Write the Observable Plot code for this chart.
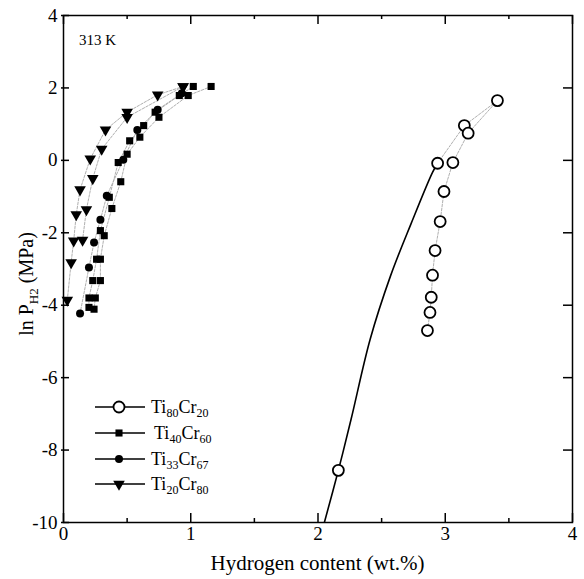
<!DOCTYPE html>
<html><head><meta charset="utf-8">
<script src="https://cdn.jsdelivr.net/npm/d3@7"></script>
<script src="https://cdn.jsdelivr.net/npm/@observablehq/plot@0.6"></script>
<style>
body{margin:0;background:#fff;}
svg{display:block;}
</style>
</head><body><div id="chart"></div>
<script>
// ---- axis ticks ----
const xTicksMajor = [0, 1, 2, 3, 4];
const xTicksMinor = [0.5, 1.5, 2.5, 3.5];
const yTicksMajor = [-10, -8, -6, -4, -2, 0, 2, 4];
const yTicksInner = [-8, -6, -4, -2, 0, 2];

// ---- series names ----
const seriesNames = ["Ti80Cr20", "Ti40Cr60", "Ti33Cr67", "Ti20Cr80"];

// ---- Ti80Cr20 (open circles) ----
const ti80cr20AbsCurve = [[2.05,-10.0],[2.16,-8.56],[2.26,-7.15],[2.41,-4.94],[2.57,-3.19],[2.73,-1.76],[2.90,-0.33],[2.94,-0.08]];
const ti80cr20AbsUpper = [[2.94,-0.08],[3.15,0.96],[3.41,1.65]];
const ti80cr20Des = [[3.41,1.65],[3.18,0.75],[3.06,-0.06],[2.99,-0.86],[2.96,-1.69],[2.92,-2.49],[2.90,-3.17],[2.89,-3.78],[2.88,-4.20],[2.86,-4.70]];
const ti80cr20Points = [[2.16,-8.56],[2.94,-0.08],[3.15,0.96],[3.41,1.65],[3.18,0.75],[3.06,-0.06],[2.99,-0.86],[2.96,-1.69],[2.92,-2.49],[2.90,-3.17],[2.89,-3.78],[2.88,-4.20],[2.86,-4.70]];

// ---- Ti40Cr60 (filled squares) ----
const ti40cr60Abs = [[0.20,-4.06],[0.20,-3.80],[0.23,-3.32],[0.26,-2.73],[0.29,-1.94],[0.36,-1.02],[0.43,-0.06],[0.52,0.54],[0.63,0.96],[0.72,1.33],[0.91,1.79],[1.02,2.04]];
const ti40cr60Des = [[1.16,2.04],[0.98,1.79],[0.75,1.19],[0.60,0.64],[0.50,0.17],[0.45,-0.59],[0.38,-1.33],[0.32,-2.08],[0.29,-2.73],[0.29,-3.32],[0.25,-3.80],[0.24,-4.11]];

// ---- Ti33Cr67 (filled circles) ----
const ti33cr67Abs = [[0.13,-4.23],[0.20,-2.96],[0.24,-2.27],[0.29,-1.64],[0.34,-0.98],[0.47,0.02],[0.58,0.84],[0.74,1.40],[0.93,1.85]];

// ---- Ti20Cr80 (filled down-triangles) ----
const ti20cr80Abs = [[0.03,-3.86],[0.06,-2.82],[0.08,-2.22],[0.10,-1.50],[0.13,-0.81],[0.21,0.04],[0.33,0.84],[0.50,1.33],[0.74,1.81],[0.94,2.04]];
const ti20cr80Des = [[0.94,2.04],[0.50,1.19],[0.30,0.31],[0.23,-0.50],[0.18,-1.36],[0.15,-2.20]];

const W = 584, H = 579;
const mL = 63, mR = 12, mT = 15, mB = 57;
const innerH = H - mT - mB, innerW = W - mL - mR;
const font = "Liberation Serif";
const gray = {stroke: "#b0b0b0", strokeWidth: 1, strokeDasharray: "2.5,1.5"};

const plot = Plot.plot({
  width: W, height: H,
  marginLeft: mL, marginRight: mR, marginTop: mT, marginBottom: mB,
  style: {fontFamily: font, fontSize: "19px", color: "#000", background: "#fff"},
  x: {domain: [0, 4], axis: null},
  y: {domain: [-10, 4], axis: null},
  marks: [
    // gray connecting lines
    Plot.line(ti80cr20AbsUpper, {x: d => d[0], y: d => d[1], ...gray}),
    Plot.line(ti80cr20Des, {x: d => d[0], y: d => d[1], ...gray}),
    Plot.line(ti40cr60Abs, {x: d => d[0], y: d => d[1], ...gray}),
    Plot.line(ti40cr60Des, {x: d => d[0], y: d => d[1], ...gray}),
    Plot.line(ti33cr67Abs, {x: d => d[0], y: d => d[1], ...gray}),
    Plot.line(ti20cr80Abs, {x: d => d[0], y: d => d[1], ...gray}),
    Plot.line(ti20cr80Des, {x: d => d[0], y: d => d[1], ...gray}),
    // black absorption curve
    Plot.line(ti80cr20AbsCurve, {x: d => d[0], y: d => d[1], stroke: "#000", strokeWidth: 1.6, curve: "catmull-rom", clip: true}),
    // markers
    Plot.dot(ti20cr80Abs.concat(ti20cr80Des), {x: d => d[0], y: d => d[1], symbol: "triangle", rotate: 180, r: 4.3, fill: "#000", stroke: "none"}),
    Plot.dot(ti33cr67Abs, {x: d => d[0], y: d => d[1], symbol: "circle", r: 4, fill: "#000", stroke: "none"}),
    Plot.dot(ti40cr60Abs.concat(ti40cr60Des), {x: d => d[0], y: d => d[1], symbol: "square", r: 4, fill: "#000", stroke: "none"}),
    Plot.dot(ti80cr20Points, {x: d => d[0], y: d => d[1], symbol: "circle", r: 5.5, fill: "#fff", stroke: "#000", strokeWidth: 1.8}),
    // frame
    Plot.frame({stroke: "#000", strokeWidth: 1.5}),
    // inward ticks: bottom / top
    Plot.tickX(xTicksMajor, {x: d => d, insetTop: innerH - 9, stroke: "#000", strokeWidth: 1.5}),
    Plot.tickX(xTicksMinor, {x: d => d, insetTop: innerH - 4, stroke: "#000", strokeWidth: 1.5}),
    Plot.tickX(xTicksMajor, {x: d => d, insetBottom: innerH - 9, stroke: "#000", strokeWidth: 1.5}),
    Plot.tickX(xTicksMinor, {x: d => d, insetBottom: innerH - 4, stroke: "#000", strokeWidth: 1.5}),
    // inward ticks: left / right (left ones poke slightly outside)
    Plot.tickY(yTicksMajor, {y: d => d, insetRight: innerW - 8, dx: -2, stroke: "#000", strokeWidth: 1.5}),
    Plot.tickY(yTicksInner, {y: d => d, insetLeft: innerW - 9, stroke: "#000", strokeWidth: 1.5}),
    // tick labels
    Plot.text(xTicksMajor, {x: d => d, text: d => String(d), frameAnchor: "bottom", lineAnchor: "top", dy: 4, fontSize: 19, fontFamily: font, fill: "#000"}),
    Plot.text(yTicksMajor, {y: d => d, text: d => String(d), frameAnchor: "left", textAnchor: "end", dx: -6, fontSize: 19, fontFamily: font, fill: "#000"})
  ]
});

document.getElementById("chart").appendChild(plot);
const svg = d3.select(plot);

// "313 K" annotation
svg.append("text").attr("x", 79).attr("y", 45).attr("text-anchor", "start").attr("font-family", font).attr("font-size", 15).text("313 K");

// X axis title
svg.append("text").attr("x", mL + innerW / 2).attr("y", 570).attr("text-anchor", "middle")
  .attr("font-family", font).attr("font-size", 21).text("Hydrogen content (wt.%)");

// Y axis title
const yt = svg.append("text").attr("transform", `translate(33,284) rotate(-90)`)
  .attr("text-anchor", "middle").attr("font-family", font).attr("font-size", 20);
yt.append("tspan").text("ln P");
yt.append("tspan").attr("font-size", 13).attr("dy", 5).text("H2");
yt.append("tspan").attr("dy", -5).text(" (MPa)");

// Legend
const legend = [
  {sym: d3.symbolCircle, size: Math.PI * 5.5 * 5.5, fill: "#fff", stroke: "#000", rot: 0, a: "Ti", s1: "80", b: "Cr", s2: "20"},
  {sym: d3.symbolSquare, size: Math.PI * 16, fill: "#000", stroke: "none", rot: 0, a: "Ti", s1: "40", b: "Cr", s2: "60"},
  {sym: d3.symbolCircle, size: Math.PI * 16, fill: "#000", stroke: "none", rot: 0, a: "Ti", s1: "33", b: "Cr", s2: "67"},
  {sym: d3.symbolTriangle, size: Math.PI * 4.3 * 4.3, fill: "#000", stroke: "none", rot: 180, a: "Ti", s1: "20", b: "Cr", s2: "80"}
];
const rowY = [407, 433, 459, 484];
const textX = [151, 154, 151, 151];
legend.forEach((L, i) => {
  const g = svg.append("g").attr("transform", `translate(0,${rowY[i]})`);
  g.append("line").attr("x1", 95).attr("x2", 145).attr("y1", 0).attr("y2", 0).attr("stroke", "#000").attr("stroke-width", 1.6);
  g.append("path").attr("d", d3.symbol(L.sym, L.size)()).attr("transform", `translate(119,0) rotate(${L.rot})`)
    .attr("fill", L.fill).attr("stroke", L.stroke).attr("stroke-width", 1.8);
  const t = g.append("text").attr("x", textX[i]).attr("y", 6).attr("text-anchor", "start").attr("font-family", font).attr("font-size", 18);
  t.append("tspan").text(L.a);
  t.append("tspan").attr("font-size", 12).attr("dy", 4).text(L.s1);
  t.append("tspan").attr("dy", -4).text(L.b);
  t.append("tspan").attr("font-size", 12).attr("dy", 4).text(L.s2);
});
</script>
</body></html>
